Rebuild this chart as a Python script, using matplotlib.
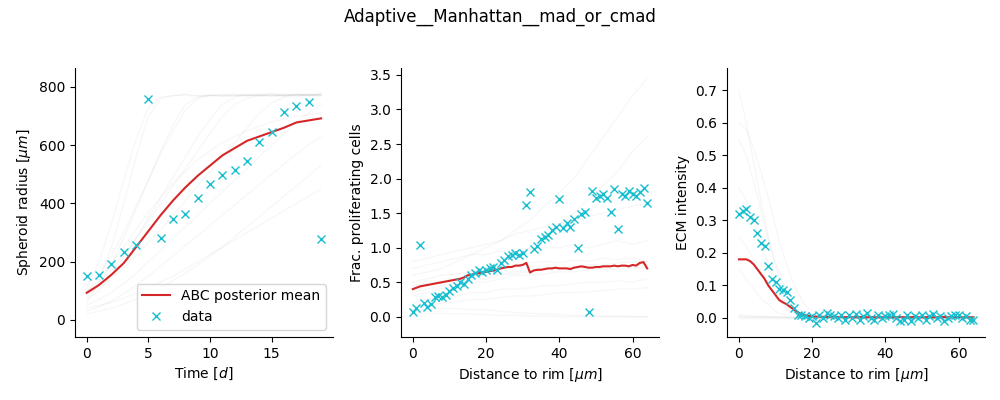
import numpy as np
import matplotlib
matplotlib.use("Agg")
import matplotlib.pyplot as plt

# ---------------- panel 1: spheroid radius ----------------
time = list(range(20))
radius_data = [150, 155, 192, 232, 258, 757, 280, 345, 362, 420,
               468, 498, 515, 545, 610, 645, 715, 735, 748, 278]
radius_mean = [93, 120, 155, 195, 250, 305, 360, 410, 455, 495,
               530, 565, 590, 615, 630, 645, 660, 678, 685, 692]
radius_sims = [
    [60, 130, 250, 400, 560, 700, 760, 770, 772, 768, 770, 775, 770, 772, 770, 768, 772, 775, 770, 778],
    [80, 120, 190, 280, 380, 480, 580, 670, 740, 765, 770, 768, 772, 770, 775, 770, 772, 770, 775, 772],
    [100, 130, 170, 220, 280, 340, 400, 460, 520, 580, 640, 700, 740, 762, 770, 772, 768, 775, 770, 776],
    [90, 110, 140, 180, 220, 265, 310, 360, 410, 460, 510, 560, 610, 660, 710, 745, 765, 770, 772, 775],
    [50, 70, 95, 125, 160, 200, 240, 280, 320, 360, 400, 440, 480, 520, 560, 600, 640, 680, 710, 740],
    [30, 45, 65, 90, 120, 150, 185, 220, 255, 290, 325, 360, 395, 430, 465, 500, 535, 570, 600, 630],
    [40, 50, 60, 75, 90, 110, 130, 150, 175, 200, 225, 250, 275, 300, 325, 350, 375, 400, 425, 450],
    [120, 160, 220, 300, 390, 480, 570, 650, 720, 760, 772, 770, 775, 770, 772, 778, 770, 775, 772, 770],
    [70, 100, 150, 210, 280, 350, 420, 490, 560, 630, 690, 740, 765, 772, 770, 775, 770, 772, 776, 770],
    [100, 140, 190, 250, 310, 370, 420, 470, 510, 550, 580, 610, 630, 650, 665, 680, 690, 700, 705, 710],
    [20, 30, 40, 55, 70, 90, 110, 135, 160, 190, 220, 250, 285, 320, 355, 390, 425, 460, 495, 530],
    [110, 200, 330, 480, 620, 730, 765, 770, 775, 770, 772, 770, 768, 775, 772, 770, 776, 770, 772, 770],
]

# ---------------- panel 2: proliferating fraction ----------------
dist = list(range(65))
prolif_data = [0.07, 0.12, 1.04, 0.20, 0.14, 0.18, 0.28, 0.30, 0.28, 0.32,
               0.38, 0.42, 0.45, 0.50, 0.48, 0.55, 0.60, 0.64, 0.68, 0.65,
               0.68, 0.70, 0.72, 0.68, 0.78, 0.82, 0.88, 0.90, 0.92, 0.90,
               0.92, 1.62, 1.80, 0.98, 1.02, 1.12, 1.15, 1.18, 1.25, 1.30,
               1.70, 1.28, 1.35, 1.30, 1.42, 1.00, 1.48, 1.52, 0.07, 1.82,
               1.72, 1.75, 1.78, 1.72, 1.52, 1.85, 1.27, 1.78, 1.75, 1.82,
               1.78, 1.75, 1.80, 1.86, 1.65]
prolif_mean = [0.40, 0.42, 0.44, 0.45, 0.46, 0.47, 0.48, 0.49, 0.50, 0.51,
               0.52, 0.53, 0.54, 0.55, 0.57, 0.60, 0.61, 0.62, 0.63, 0.64,
               0.65, 0.66, 0.67, 0.68, 0.70, 0.71, 0.72, 0.72, 0.74, 0.74,
               0.75, 0.78, 0.64, 0.67, 0.68, 0.68, 0.69, 0.70, 0.70, 0.71,
               0.70, 0.70, 0.70, 0.69, 0.71, 0.72, 0.73, 0.72, 0.71, 0.71,
               0.72, 0.72, 0.73, 0.73, 0.73, 0.74, 0.73, 0.74, 0.74, 0.73,
               0.75, 0.74, 0.78, 0.79, 0.70]
prolif_sim_x = [0, 4, 8, 12, 16, 20, 24, 28, 32, 36, 40, 44, 48, 52, 56, 60, 64]
prolif_sims = [
    [0.50, 0.55, 0.60, 0.62, 0.65, 0.70, 0.72, 0.75, 0.78, 0.80, 0.78, 0.82, 0.80, 0.85, 0.82, 0.85, 0.80],
    [0.30, 0.35, 0.40, 0.45, 0.50, 0.50, 0.55, 0.60, 0.60, 0.62, 0.65, 0.65, 0.68, 0.70, 0.68, 0.72, 0.70],
    [0.70, 0.75, 0.80, 0.85, 0.90, 0.90, 0.95, 0.95, 1.00, 1.00, 1.00, 1.05, 1.00, 1.05, 1.10, 1.05, 1.10],
    [0.20, 0.25, 0.30, 0.30, 0.35, 0.35, 0.40, 0.40, 0.42, 0.45, 0.45, 0.48, 0.50, 0.50, 0.52, 0.50, 0.55],
    [0.10, 0.10, 0.12, 0.12, 0.10, 0.10, 0.08, 0.06, 0.05, 0.04, 0.03, 0.02, 0.02, 0.01, 0.01, 0.00, 0.00],
    [0.05, 0.05, 0.05, 0.04, 0.04, 0.03, 0.02, 0.02, 0.01, 0.01, 0.00, 0.00, 0.00, 0.00, 0.00, 0.00, 0.00],
    [0.40, 0.45, 0.50, 0.55, 0.60, 0.70, 0.80, 0.90, 1.00, 1.15, 1.30, 1.50, 1.70, 1.90, 2.10, 2.40, 2.60],
    [0.60, 0.65, 0.70, 0.80, 0.90, 1.00, 1.10, 1.25, 1.40, 1.60, 1.80, 2.00, 2.30, 2.60, 2.90, 3.20, 3.45],
    [0.80, 0.85, 0.90, 0.95, 1.00, 1.05, 1.10, 1.20, 1.25, 1.30, 1.35, 1.40, 1.45, 1.50, 1.55, 1.60, 1.65],
    [0.35, 0.40, 0.45, 0.50, 0.55, 0.55, 0.60, 0.62, 0.65, 0.70, 0.70, 0.72, 0.75, 0.75, 0.78, 0.80, 0.80],
    [0.45, 0.48, 0.52, 0.55, 0.58, 0.60, 0.62, 0.65, 0.66, 0.68, 0.70, 0.70, 0.72, 0.73, 0.74, 0.75, 0.75],
    [0.15, 0.18, 0.20, 0.22, 0.25, 0.25, 0.28, 0.30, 0.30, 0.32, 0.35, 0.35, 0.36, 0.38, 0.40, 0.40, 0.42],
]

# ---------------- panel 3: ECM intensity ----------------
ecm_data = [0.32, 0.33, 0.335, 0.31, 0.30, 0.26, 0.23, 0.22, 0.16, 0.12,
            0.11, 0.09, 0.085, 0.08, 0.055, 0.03, 0.01, 0.01, 0.005, 0.0,
            0.005, -0.015, 0.01, 0.0, 0.015, 0.01, 0.005, 0.0, 0.008, -0.005,
            0.01, 0.0, 0.012, -0.005, 0.005, 0.015, 0.0, -0.005, 0.008, 0.0,
            0.005, 0.01, 0.012, 0.0, -0.008, -0.005, 0.01, -0.01, 0.005, 0.0,
            0.008, -0.005, 0.005, 0.012, 0.0, 0.005, -0.008, 0.0, 0.005, 0.008,
            0.01, 0.0, 0.005, -0.005, -0.005]
ecm_mean = [0.18, 0.18, 0.18, 0.175, 0.165, 0.15, 0.135, 0.12, 0.10, 0.085,
            0.07, 0.055, 0.048, 0.042, 0.034, 0.026, 0.018, 0.012, 0.008, 0.006,
            0.005, 0.004, 0.004, 0.003, 0.003, 0.003, 0.003, 0.002, 0.003, 0.002,
            0.003, 0.002, 0.002, 0.003, 0.002, 0.002, 0.003, 0.002, 0.002, 0.002,
            0.003, 0.002, 0.002, 0.002, 0.003, 0.002, 0.002, 0.002, 0.003, 0.002,
            0.002, 0.002, 0.003, 0.002, 0.002, 0.002, 0.003, 0.002, 0.002, 0.002,
            0.003, 0.002, 0.002, 0.002, 0.002]
ecm_sim_x = [0, 2, 4, 6, 8, 10, 12, 14, 16, 18, 20, 24, 30, 40, 50, 64]
ecm_sims = [
    [0.70, 0.60, 0.48, 0.36, 0.25, 0.16, 0.09, 0.05, 0.02, 0.01, 0.0, 0.0, 0.0, 0.0, 0.0, 0.0],
    [0.55, 0.50, 0.42, 0.33, 0.24, 0.17, 0.11, 0.06, 0.03, 0.015, 0.005, 0.0, 0.0, 0.0, 0.0, 0.0],
    [0.40, 0.36, 0.30, 0.23, 0.16, 0.10, 0.06, 0.03, 0.015, 0.005, 0.0, 0.0, 0.0, 0.0, 0.0, 0.0],
    [0.25, 0.22, 0.18, 0.14, 0.10, 0.07, 0.04, 0.02, 0.01, 0.0, 0.0, 0.0, 0.0, 0.0, 0.0, 0.0],
    [0.60, 0.58, 0.52, 0.45, 0.37, 0.28, 0.20, 0.13, 0.08, 0.04, 0.02, 0.005, 0.0, 0.0, 0.0, 0.0],
    [0.15, 0.12, 0.09, 0.06, 0.04, 0.02, 0.01, 0.005, 0.0, 0.0, 0.0, 0.0, 0.0, 0.0, 0.0, 0.0],
    [0.005, 0.004, 0.003, 0.003, 0.002, 0.002, 0.001, 0.0, 0.0, 0.0, 0.0, 0.0, 0.0, 0.0, 0.0, 0.0],
    [0.01, 0.008, 0.006, 0.005, 0.004, 0.003, 0.002, 0.001, 0.0, 0.0, 0.0, 0.0, 0.0, 0.0, 0.0, 0.0],
    [0.0, 0.0, 0.0, 0.0, 0.0, 0.0, 0.0, 0.0, 0.0, 0.0, 0.0, 0.0, 0.0, 0.0, 0.0, 0.0],
    [0.002, 0.003, 0.002, 0.004, 0.003, 0.002, 0.003, 0.002, 0.002, 0.003, 0.002, 0.002, 0.003, 0.002, 0.002, 0.003],
]

RED = "#d62728"
CYAN = "#17becf"
SIM_COLOR = "grey"
SIM_ALPHA = 0.06

fig, axes = plt.subplots(1, 3, figsize=(10, 4), dpi=100)
fig.subplots_adjust(left=0.075, right=0.985, top=0.83, bottom=0.158, wspace=0.265)
fig.suptitle("Adaptive__Manhattan__mad_or_cmad")

ax = axes[0]
for sim in radius_sims:
    ax.plot(time, sim, color=SIM_COLOR, alpha=SIM_ALPHA, lw=1)
ax.plot(time, radius_mean, color=RED, label="ABC posterior mean")
ax.plot(time, radius_data, "x", color=CYAN, label="data")
ax.set_xlabel("Time [$d$]")
ax.set_ylabel("Spheroid radius [$\\mu m$]")
ax.set_xlim(-0.95, 19.95)
ax.set_ylim(-58, 865)
ax.set_xticks([0, 5, 10, 15])
ax.legend(loc="lower right")

ax = axes[1]
for sim in prolif_sims:
    ax.plot(prolif_sim_x, sim, color=SIM_COLOR, alpha=SIM_ALPHA, lw=1)
ax.plot(dist, prolif_mean, color=RED)
ax.plot(dist, prolif_data, "x", color=CYAN)
ax.set_xlabel("Distance to rim [$\\mu m$]")
ax.set_ylabel("Frac. proliferating cells")
ax.set_xlim(-3.2, 67.2)
ax.set_ylim(-0.29, 3.6)

ax = axes[2]
for sim in ecm_sims:
    ax.plot(ecm_sim_x, sim, color=SIM_COLOR, alpha=SIM_ALPHA, lw=1)
ax.plot(dist, ecm_mean, color=RED)
ax.plot(dist, ecm_data, "x", color=CYAN)
ax.set_xlabel("Distance to rim [$\\mu m$]")
ax.set_ylabel("ECM intensity")
ax.set_xlim(-3.2, 67.2)
ax.set_ylim(-0.058, 0.768)

for ax in axes:
    ax.spines["top"].set_visible(False)
    ax.spines["right"].set_visible(False)

fig.savefig("out.png")
